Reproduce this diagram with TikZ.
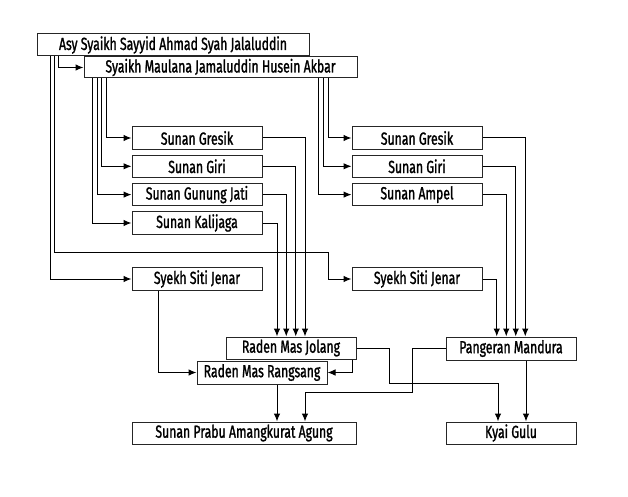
\documentclass[tikz,border=0pt]{standalone}
\usepackage{fontspec}
\setmainfont{Fira Sans}[FakeStretch=0.70,FakeBold=1.3]
\usetikzlibrary{arrows.meta}
\begin{document}
\begin{tikzpicture}[x=1pt,y=-1pt,
  box/.style={draw=black!85,line width=1pt,fill=white,minimum height=22.5pt,inner sep=0pt,
    font=\fontsize{17.5}{19}\selectfont},
  sbox/.style={box,minimum width=130pt},
  arr/.style={draw=black,line width=1pt,-{Latex[length=8pt,width=6.5pt]}}]
\useasboundingbox (0,0) rectangle (628,497);
\node[box,minimum width=272pt,minimum height=22pt] (top) at (173,45) {Asy Syaikh Sayyid Ahmad Syah Jalaluddin};
\node[box,minimum width=273pt,minimum height=21pt] (maulana) at (220.5,67.5) {Syaikh Maulana Jamaluddin Husein Akbar};
\node[sbox] (gresikL) at (197,138) {Sunan Gresik};
\node[sbox] (giriL) at (197,166.3) {Sunan Giri};
\node[sbox] (gunungL) at (197,194.6) {Sunan Gunung Jati};
\node[sbox] (kaliL) at (197,223) {Sunan Kalijaga};
\node[sbox] (gresikR) at (417,138) {Sunan Gresik};
\node[sbox] (giriR) at (417,166.3) {Sunan Giri};
\node[sbox] (ampel) at (417,194.6) {Sunan Ampel};
\node[sbox] (sitiL) at (197,279) {Syekh Siti Jenar};
\node[sbox] (sitiR) at (417,279) {Syekh Siti Jenar};
\node[sbox,minimum height=22pt] (jolang) at (291,348) {Raden Mas Jolang};
\node[sbox,minimum height=23pt] (rangsang) at (262,372.5) {Raden Mas Rangsang};
\node[sbox,minimum height=23pt] (mandura) at (511,348.5) {Pangeran Mandura};
\node[box,minimum width=224pt,minimum height=22pt] (prabu) at (244,433) {Sunan Prabu Amangkurat Agung};
\node[sbox,minimum height=22pt] (kyai) at (511,433) {Kyai Gulu};
\coordinate (c1) at (328,252);
\coordinate (c2) at (389,383);
\coordinate (c3) at (412,392);
% from top
\draw[arr] ([xshift=22pt]top.south west) |- (maulana.west);
\draw[arr] ([xshift=14pt]top.south west) |- (sitiL.west);
\draw[arr] ([xshift=18pt]top.south west) |- (c1) |- (sitiR.west);
% from maulana
\draw[arr] ([xshift=23pt]maulana.south west) |- (gresikL.west);
\draw[arr] ([xshift=18pt]maulana.south west) |- (giriL.west);
\draw[arr] ([xshift=13.5pt]maulana.south west) |- (gunungL.west);
\draw[arr] ([xshift=9pt]maulana.south west) |- (kaliL.west);
\draw[arr] ([xshift=-29pt]maulana.south east) |- (gresikR.west);
\draw[arr] ([xshift=-34pt]maulana.south east) |- (giriR.west);
\draw[arr] ([xshift=-39pt]maulana.south east) |- (ampel.west);
% to jolang
\draw[arr] (gresikL.east) -| ([xshift=14pt]jolang.north);
\draw[arr] (giriL.east) -| ([xshift=4.75pt]jolang.north);
\draw[arr] (gunungL.east) -| ([xshift=-4.75pt]jolang.north);
\draw[arr] (kaliL.east) -| ([xshift=-14pt]jolang.north);
% to mandura
\draw[arr] (gresikR.east) -| ([xshift=14.25pt]mandura.north);
\draw[arr] (giriR.east) -| ([xshift=4.75pt]mandura.north);
\draw[arr] (ampel.east) -| ([xshift=-4.75pt]mandura.north);
\draw[arr] (sitiR.east) -| ([xshift=-14.25pt]mandura.north);
% to rangsang
\draw[arr] ([xshift=-39pt]sitiL.south) |- (rangsang.west);
\draw[arr] ([xshift=-4pt]jolang.south east) |- (rangsang.east);
% to bottom
\draw[arr] (jolang.east) -| (c2) -| ([xshift=-13pt]kyai.north);
\draw[arr] (mandura.west) -| (c3) -| ([xshift=61pt]prabu.north);
\draw[arr] ([xshift=15pt]rangsang.south) -- ([xshift=15pt]rangsang.south |- prabu.north);
\draw[arr] ([xshift=15pt]mandura.south) -- ([xshift=15pt]kyai.north);
\end{tikzpicture}
\end{document}
